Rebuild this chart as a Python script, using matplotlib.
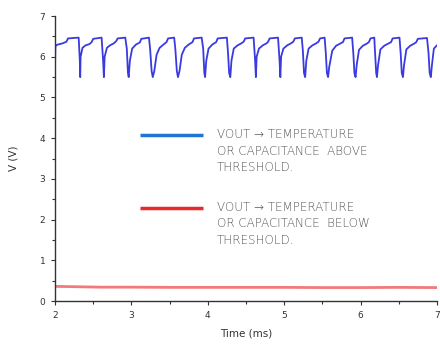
import matplotlib
matplotlib.use("Agg")
import matplotlib.pyplot as plt
from matplotlib.ticker import MultipleLocator

# blue trace: temperature / capacitance above threshold
t_hi = [2.00, 2.005, 2.02, 2.10, 2.15, 2.17, 2.31,
        2.325, 2.33, 2.335, 2.36, 2.40, 2.45, 2.48, 2.50, 2.61,
        2.63, 2.64, 2.65, 2.68, 2.72, 2.77, 2.80, 2.82, 2.92,
        2.94, 2.955, 2.965, 2.98, 3.01, 3.06, 3.11, 3.13, 3.23,
        3.245, 3.265, 3.28, 3.30, 3.33, 3.37, 3.42, 3.46, 3.48, 3.56,
        3.575, 3.595, 3.61, 3.63, 3.66, 3.70, 3.75, 3.80, 3.82, 3.92,
        3.94, 3.955, 3.965, 3.98, 4.01, 4.06, 4.11, 4.13, 4.25,
        4.265, 4.28, 4.295, 4.31, 4.34, 4.39, 4.44, 4.47, 4.49, 4.60,
        4.62, 4.63, 4.64, 4.67, 4.72, 4.77, 4.79, 4.81, 4.92,
        4.94, 4.95, 4.96, 4.99, 5.04, 5.09, 5.12, 5.14, 5.23,
        5.245, 5.26, 5.275, 5.29, 5.32, 5.37, 5.42, 5.45, 5.47, 5.53,
        5.545, 5.56, 5.575, 5.59, 5.63, 5.68, 5.73, 5.77, 5.79, 5.89,
        5.905, 5.92, 5.935, 5.95, 5.98, 6.03, 6.08, 6.11, 6.13, 6.18,
        6.19, 6.205, 6.215, 6.23, 6.26, 6.31, 6.36, 6.40, 6.42, 6.51,
        6.525, 6.54, 6.555, 6.57, 6.60, 6.65, 6.70, 6.73, 6.75, 6.87,
        6.89, 6.905, 6.92, 6.935, 6.96, 6.99, 7.00]
v_hi = [5.75, 6.25, 6.29, 6.33, 6.37, 6.45, 6.47,
        5.90, 5.50, 6.00, 6.22, 6.28, 6.31, 6.36, 6.44, 6.47,
        5.90, 5.50, 6.00, 6.22, 6.28, 6.33, 6.38, 6.45, 6.47,
        6.20, 5.60, 5.50, 5.90, 6.20, 6.30, 6.35, 6.44, 6.47,
        6.20, 5.65, 5.50, 5.65, 6.05, 6.22, 6.30, 6.36, 6.45, 6.47,
        6.20, 5.65, 5.50, 5.65, 6.05, 6.22, 6.30, 6.36, 6.45, 6.47,
        6.20, 5.60, 5.50, 5.90, 6.20, 6.30, 6.36, 6.45, 6.47,
        6.10, 5.60, 5.50, 5.90, 6.20, 6.28, 6.33, 6.37, 6.45, 6.47,
        5.90, 5.50, 6.00, 6.20, 6.28, 6.33, 6.37, 6.45, 6.47,
        5.90, 5.50, 6.00, 6.20, 6.28, 6.33, 6.37, 6.45, 6.47,
        6.15, 5.60, 5.50, 5.90, 6.20, 6.28, 6.33, 6.37, 6.45, 6.47,
        6.10, 5.60, 5.50, 5.75, 6.15, 6.27, 6.32, 6.36, 6.45, 6.47,
        6.10, 5.60, 5.50, 5.80, 6.17, 6.27, 6.32, 6.36, 6.45, 6.47,
        6.10, 5.60, 5.50, 5.80, 6.18, 6.27, 6.32, 6.36, 6.45, 6.47,
        6.10, 5.60, 5.50, 5.80, 6.18, 6.27, 6.32, 6.36, 6.44, 6.46,
        6.10, 5.60, 5.50, 5.80, 6.20, 6.26, 6.28]

# red trace: below threshold
t_lo = [2.0, 2.3, 2.6, 3.0, 3.5, 4.0, 4.5, 5.0, 5.5, 6.0, 6.5, 7.0]
v_lo = [0.36, 0.35, 0.34, 0.34, 0.335, 0.335, 0.335, 0.335, 0.33, 0.33, 0.335, 0.33]

legend_hi = "VOUT \u2192 TEMPERATURE\nOR CAPACITANCE  ABOVE\nTHRESHOLD."
legend_lo = "VOUT \u2192 TEMPERATURE\nOR CAPACITANCE  BELOW\nTHRESHOLD."

fig = plt.figure(figsize=(4.4, 3.45), dpi=100)
ax = fig.add_axes([0.125, 0.1275, 0.868, 0.826])

ax.plot(t_hi, v_hi, color="#3a3ae0", lw=1.3)
ax.plot(t_lo, v_lo, color="#f27a7a", lw=2.0)

ax.set_xlim(2, 7)
ax.set_ylim(0, 7)
ax.xaxis.set_major_locator(MultipleLocator(1))
ax.xaxis.set_minor_locator(MultipleLocator(0.5))
ax.yaxis.set_major_locator(MultipleLocator(1))
ax.yaxis.set_minor_locator(MultipleLocator(0.5))
for s in ("top", "right"):
    ax.spines[s].set_visible(False)
for s in ("left", "bottom"):
    ax.spines[s].set_color("#333333")
    ax.spines[s].set_linewidth(1.0)
ax.tick_params(which="major", length=3, width=0.8, color="#333333",
               labelsize=6.5, labelcolor="#333333", pad=4)
ax.tick_params(which="minor", length=2, width=0.8, color="#333333")
ax.set_xlabel("Time (ms)", fontsize=7.5, color="#333333", labelpad=6)
ax.set_ylabel("V (V)", fontsize=7.5, color="#333333", labelpad=15)

# hand-made legend
ax.plot([0.2225, 0.387], [0.582, 0.582], transform=ax.transAxes,
        color="#1f74d4", lw=2.5, solid_capstyle="butt")
ax.plot([0.2225, 0.387], [0.326, 0.326], transform=ax.transAxes,
        color="#e82a2a", lw=2.5, solid_capstyle="butt")
for y, txt in ((0.607, legend_hi), (0.351, legend_lo)):
    ax.text(0.424, y, txt, transform=ax.transAxes, va="top", ha="left",
            fontsize=8.6, color="#555555",
            family=["DejaVu Sans", "Noto Sans"], fontweight="light",
            linespacing=1.45)

fig.savefig("out.png", dpi=100)
